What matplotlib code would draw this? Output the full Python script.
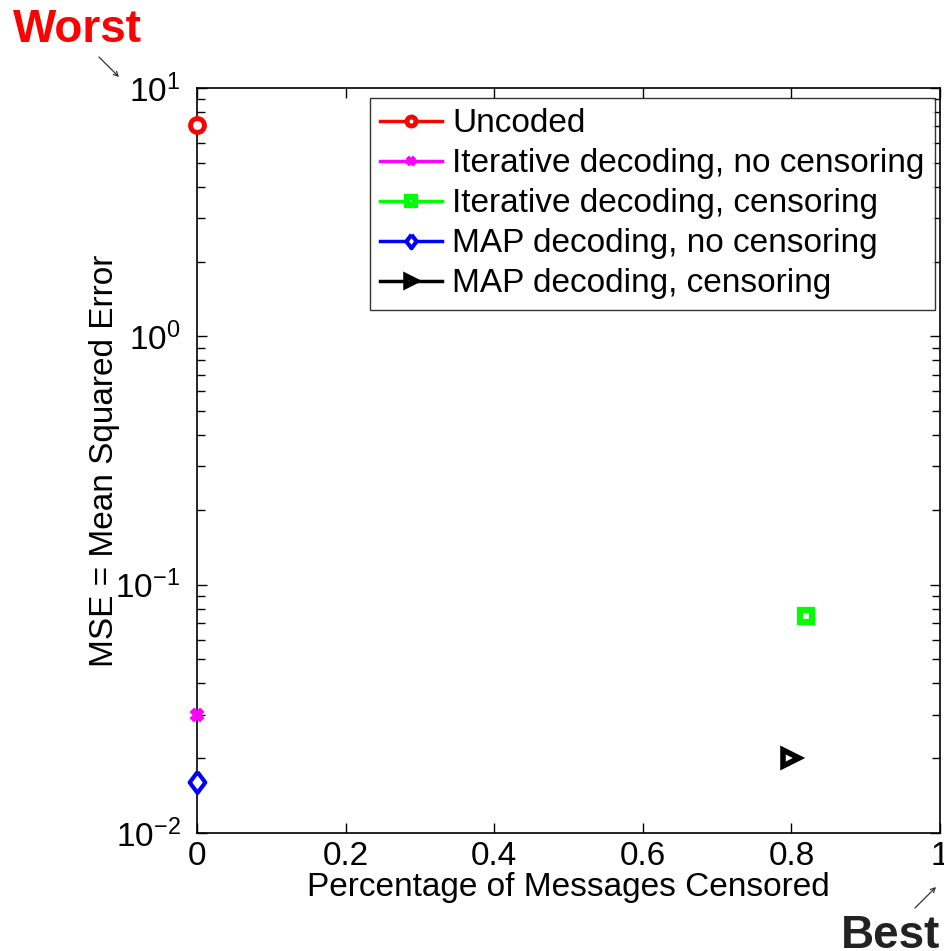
import matplotlib
matplotlib.use("Agg")
import matplotlib.pyplot as plt
from matplotlib.ticker import LogLocator, FixedLocator, NullFormatter

plt.rcParams['font.family'] = ['Liberation Sans', 'DejaVu Sans']
plt.rcParams['mathtext.fontset'] = 'custom'
plt.rcParams['mathtext.rm'] = 'Liberation Sans'
plt.rcParams['mathtext.it'] = 'Liberation Sans'

# ---- data ----
series_names = ["Uncoded", "Iterative decoding, no censoring", "Iterative decoding, censoring",
                "MAP decoding, no censoring", "MAP decoding, censoring"]
censored_frac = [0.0, 0.0, 0.82, 0.0, 0.80]
mse_values = [7.1, 0.030, 0.075, 0.016, 0.020]
colors = ["#ff0000", "#ff00ff", "#00ff00", "#0000ff", "#000000"]
diamond = [(0, 1), (0.75, 0), (0, -1), (-0.75, 0), (0, 1)]
markers = ["o", "X", "s", diamond, ">"]
x_ticks = [0, 0.2, 0.4, 0.6, 0.8, 1]
x_tick_labels = ["0", "0.2", "0.4", "0.6", "0.8", "1"]

fig = plt.figure(figsize=(9.44, 9.51), dpi=100)
ax = fig.add_axes([197/944, 1-833/951, (940-197)/944, (833-88)/951])

# marker styling (size, edge width)
msizes = [10, 8, 8, 15, 11]
mews = [3.5, 1.5, 4.5, 3.0, 4.0]
for name, xv, yv, c, m, ms, mew in zip(series_names, censored_frac, mse_values, colors, markers, msizes, mews):
    mfc = c if m == "X" else "white"
    ax.plot([xv], [yv], linestyle='-', linewidth=2.5, color=c, marker=m,
            markersize=ms, markeredgewidth=mew, markerfacecolor=mfc,
            markeredgecolor=c, label=name, clip_on=False, zorder=5)

ax.set_yscale('log')
ax.set_ylim(1e-2, 1e1)
ax.set_xlim(0, 1)
ax.xaxis.set_major_locator(FixedLocator(x_ticks))
ax.set_xticklabels(x_tick_labels)
ax.yaxis.set_major_locator(LogLocator(base=10, numticks=10))
ax.yaxis.set_minor_locator(LogLocator(base=10, subs=range(2, 10), numticks=20))
ax.yaxis.set_minor_formatter(NullFormatter())

ax.tick_params(which='both', direction='in', top=True, right=True, width=1, labelsize=24)
ax.tick_params(axis='x', pad=6)
ax.tick_params(axis='y', pad=12)
ax.tick_params(which='major', length=7)
ax.tick_params(which='minor', length=6)
for s in ax.spines.values():
    s.set_linewidth(1.2)

ax.set_xlabel("Percentage of Messages Censored", fontsize=24, labelpad=0)
ax.set_ylabel("MSE = Mean Squared Error", fontsize=24, labelpad=-3)

leg = ax.legend(loc='upper right', bbox_to_anchor=(0.9935, 0.987), fontsize=24, frameon=True,
                fancybox=False, edgecolor='black', handlelength=1.85, handletextpad=0.3,
                labelspacing=0.27, borderpad=0.32, borderaxespad=0.0, markerscale=0.65)
leg.get_frame().set_linewidth(1.0)

fig.text(13/944, 1-42/951, "Worst", color="#ff0000", fontsize=33, fontweight='bold',
         va='baseline', ha='left')
fig.text(940/944, 1-948/951, "Best", color="#222222", fontsize=33, fontweight='bold',
         va='baseline', ha='right')

fig.add_artist(matplotlib.patches.FancyArrowPatch((97/944, 1-55/951), (121/944, 1-79/951),
               transform=fig.transFigure, arrowstyle='->', mutation_scale=8, color='#333333', lw=0.9))
fig.add_artist(matplotlib.patches.FancyArrowPatch((913/944, 1-910/951), (938/944, 1-885/951),
               transform=fig.transFigure, arrowstyle='->', mutation_scale=8, color='#333333', lw=0.9))

fig.savefig("out.png", dpi=100)
